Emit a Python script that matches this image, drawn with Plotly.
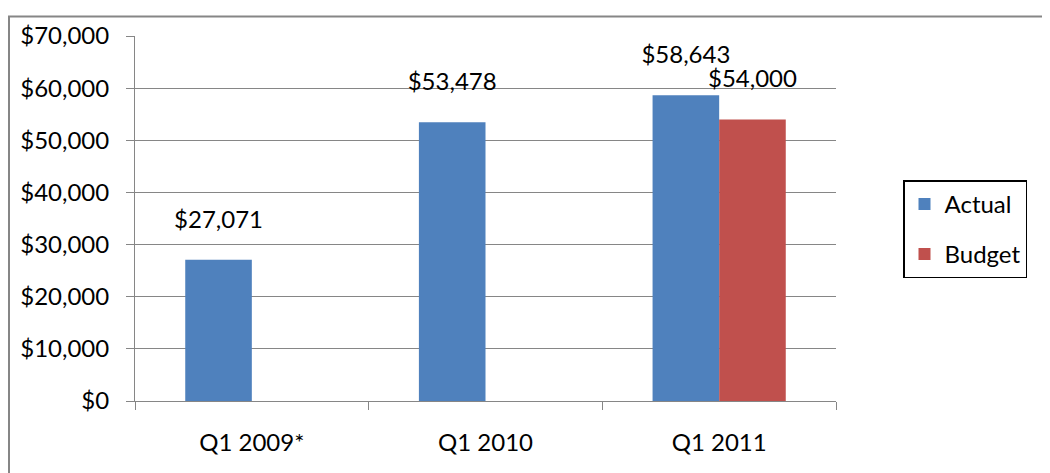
import plotly.graph_objects as go

categories = ["Q1 2009*", "Q1 2010", "Q1 2011"]
actual = [27071, 53478, 58643]
budget = [None, None, 54000]
series_names = ["Actual", "Budget"]
colors = ["#4F81BD", "#C0504D"]
ytick_vals = [0, 10000, 20000, 30000, 40000, 50000, 60000, 70000]
ytick_text = ["$" + f"{v:,}" for v in ytick_vals]

FONT = "Lato, Calibri, Carlito, sans-serif"
fs = 24

# page body has an 8px margin, so the figure is laid out 8px up/left
L, R, T, B = 127, 222, 21, 80
PW, PH = 1050 - L - R, 473 - T - B

fig = go.Figure()
for name, vals, col in zip(series_names, [actual, budget], colors):
    fig.add_trace(go.Bar(
        x=categories, y=vals, name=name, marker_color=col,
        marker_line_width=0, legendgroup=name,
    ))
for name, vals in zip(series_names, [actual, budget]):
    fig.add_trace(go.Scatter(
        x=categories, y=vals, mode="markers+text",
        text=[("$" + f"{v:,}") if v is not None else "" for v in vals],
        textposition="top center",
        marker=dict(size=40, opacity=0),
        textfont=dict(family=FONT, size=fs, color="black"),
        showlegend=False, hoverinfo="skip", cliponaxis=False,
    ))

fig.update_layout(
    width=1050, height=473,
    margin=dict(l=L, r=R, t=T, b=B),
    paper_bgcolor="white", plot_bgcolor="white",
    barmode="group", bargap=0.43, bargroupgap=0,
    scattermode="group", scattergap=0.43,
    font=dict(family=FONT, size=fs, color="black"),
    legend=dict(
        x=(895 - L) / PW, y=(393 - 218) / PH, xanchor="left", yanchor="middle",
        bordercolor="black", borderwidth=1.5, bgcolor="white",
        font=dict(family=FONT, size=fs, color="black"),
        tracegroupgap=16,
    ),
    showlegend=True,
)
fig.update_yaxes(
    range=[0, 70000], tickvals=ytick_vals, ticktext=ytick_text,
    showgrid=True, gridcolor="#868686", gridwidth=1,
    showline=True, linecolor="#868686", linewidth=1,
    ticks="outside", ticklen=8, tickcolor="#868686",
    ticklabelstandoff=12, zeroline=False, fixedrange=True,
)
fig.update_xaxes(
    showline=True, linecolor="#868686", linewidth=1,
    ticks="outside", ticklen=8, tickcolor="#868686",
    tickson="boundaries", ticklabelstandoff=20,
)
fig.add_shape(
    type="rect", xref="paper", yref="paper",
    x0=(1 - L) / PW, x1=(1070 - L) / PW,
    y0=(393 - 500) / PH, y1=(393 - 1) / PH,
    line=dict(color="#868686", width=2), fillcolor="rgba(0,0,0,0)",
    layer="below",
)

fig.write_html("out.html")
